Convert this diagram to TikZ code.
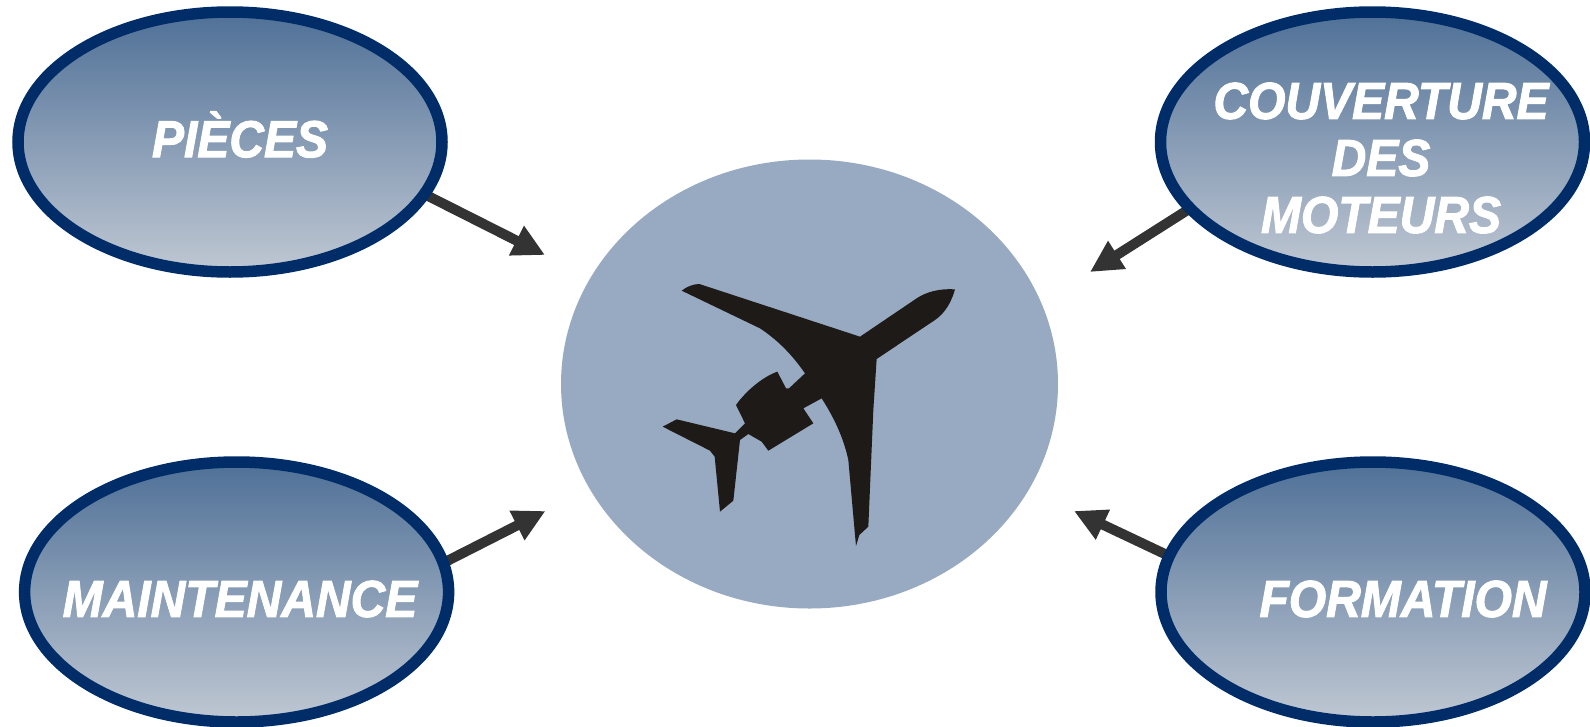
\documentclass[tikz,border=0pt]{standalone}
\usepackage{fontspec}
\setmainfont{Liberation Sans}
\newfontfamily\bubblefont[BoldItalicFeatures={FakeBold=2}]{Liberation Sans}
\usetikzlibrary{arrows.meta,shapes.geometric,backgrounds}

\definecolor{ringblue}{HTML}{002D68}
\definecolor{topblue}{HTML}{4F7097}
\definecolor{lowgrey}{HTML}{C0C8D3}
\definecolor{hubblue}{HTML}{98AAC1}
\definecolor{shaftgrey}{HTML}{333333}
\definecolor{planeblack}{HTML}{1E1A17}

\begin{document}
\begin{tikzpicture}[
    x=1pt, y=-1pt,
    bubble/.style={ellipse, draw=ringblue, line width=11.5pt, top color=topblue, bottom color=lowgrey,
        minimum width=424pt, minimum height=260pt, inner sep=0pt, outer sep=0pt},
    bubbletext/.style={text=white, align=center, inner sep=0pt, yscale=1.08, transform shape,
        font=\bubblefont\fontsize{48}{52.8}\selectfont\bfseries\itshape},
    flow/.style={-{Triangle[length=32pt,width=31pt]}, shaftgrey, line width=10pt}
]
\useasboundingbox (0,0) rectangle (1590,726);

% Central disc
\node[ellipse, fill=hubblue, minimum width=497pt, minimum height=449pt, inner sep=0pt] (hub) at (809.5,384) {};

% Plane
\begin{scope}[shift={(640,260)}, scale=1/3]
\fill[planeblack, line join=round] (125,92) .. controls (140,80) and (160,72) .. (178,72)
    -- (660,230) -- (830,115) .. controls (860,95) and (900,85) .. (945,88)
    .. controls (935,125) and (915,160) .. (885,180) -- (710,297) -- (700,450) -- (685,800)
    -- (658,825) -- (648,858) -- (645,825) -- (625,600)
    .. controls (610,530) and (580,470) .. (545,415) -- (490,445) -- (520,490) -- (385,572)
    -- (365,545) -- (325,522) -- (300,540) -- (280,722) -- (240,755) -- (224,590)
    -- (210,572) -- (68,500) -- (110,478) -- (285,520) -- (315,490) -- (288,435)
    .. controls (320,390) and (370,350) .. (412,335) -- (438,385) -- (447,385) -- (495,340)
    .. controls (460,290) and (420,245) .. (360,205) -- cycle;
\end{scope}

% Bubbles
\node[bubble] (pieces) at (230,142) {};
\node[bubble] (couverture) at (1372.5,142) {};
\node[bubble] (maintenance) at (236.6,592) {};
\node[bubble] (formation) at (1373,592) {};

% Texts
\node[bubbletext] (piecestext) at (240,134.5) {PIÈCES};
\node[bubbletext] (couverturetext) at (1381,158) {COUVERTURE\\DES\\MOTEURS};
\node[bubbletext] (maintenancetext) at (240,599) {MAINTENANCE};
\node[bubbletext] (formationtext) at (1403,599) {FORMATION};

% Arrow ends
\coordinate (piecestip) at (545,255);
\coordinate (couverturetip) at (1090,272);
\coordinate (maintenancetip) at (545.5,511);
\coordinate (formationtip) at (1074,511);

% Arrows
\begin{scope}[on background layer]
\draw[flow] (pieces.-15) -- (piecestip);
\draw[flow] (couverture.-160.7) -- (couverturetip);
\draw[flow] (maintenance.8) -- (maintenancetip);
\draw[flow] (formation.170.6) -- (formationtip);
\end{scope}

\end{tikzpicture}
\end{document}
